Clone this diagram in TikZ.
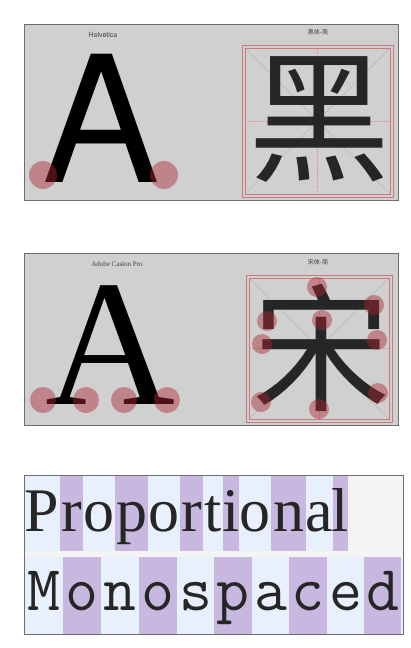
\documentclass[tikz,border=0pt]{standalone}
\usepackage{fontspec}
\newfontfamily\heros{TeX Gyre Heros}
\newfontfamily\cjk{Noto Sans CJK SC}
\newfontfamily\timesish{Liberation Serif}
\definecolor{panelgray}{RGB}{208,208,208}
\definecolor{frame}{RGB}{110,110,110}
\definecolor{mark}{RGB}{170,40,50}
\definecolor{boxred}{RGB}{205,120,125}
\definecolor{cellblue}{RGB}{232,240,254}
\definecolor{cellgray}{RGB}{244,244,244}
\definecolor{stripe}{RGB}{200,184,224}

\begin{document}
\begin{tikzpicture}[x=1pt, y=-1pt,
  panel/.style={draw=frame, line width=0.9pt, fill=panelgray},
  tag/.style={font=\fontsize{7}{7}\selectfont, text=black!75, inner sep=0},
  glyph/.style={inner sep=0, anchor=base},
  dot/.style={fill=mark, fill opacity=0.45, draw=none},
  gridbox/.style={draw=boxred, line width=0.5pt},
  guide/.style={draw=gray!65, line width=0.3pt},
  cross/.style={draw=boxred!70, line width=0.3pt, densely dotted}
]
  \useasboundingbox[fill=white] (0,0) rectangle (411,648);

  % panel 1: sans
  \draw[panel] (24,24) rectangle (398,200);
  \node[tag, font=\heros\fontsize{7}{7}\selectfont] (helv) at (103,35) {Helvetica};
  \node[tag, font=\cjk\fontsize{6}{6}\selectfont] (hei) at (318,32) {黑体-简};
  \draw[guide] (245,48) -- (390,194) (390,48) -- (245,194);
  \draw[cross] (317.5,48) -- (317.5,194) (245,121) -- (390,121);
  \draw[gridbox] (242,45) rectangle (393,197);
  \draw[gridbox] (245,48) rectangle (390,194);
  \node[glyph, text height=126pt, text depth=0pt, font=\heros\fontsize{176}{176}\selectfont] (bigA) at (101.5,182) {A};
  \node[inner sep=0, text=black!85, font=\cjk\fontsize{142}{142}\selectfont] (heiChar) at (319,120) {黑};
  \fill[dot] (43,175) circle (14pt);
  \fill[dot] (164,175) circle (14pt);

  % panel 2: serif
  \draw[panel] (24,253) rectangle (398,425);
  \node[tag, font=\timesish\fontsize{7}{7}\selectfont] (caslon) at (117,264) {Adobe Caslon Pro};
  \node[tag, font=\cjk\fontsize{6}{6}\selectfont] (song) at (318,262) {宋体-简};
  \draw[guide] (249,278) -- (389,419) (389,278) -- (249,419);
  \draw[cross] (319,278) -- (319,419) (249,348.5) -- (389,348.5);
  \draw[gridbox] (246,275) rectangle (392,422);
  \draw[gridbox] (249,278) rectangle (389,419);
  \node[glyph, text height=120pt, text depth=0pt, font=\timesish\fontsize{180}{180}\selectfont] (serifA) at (110,404) {A};
  \node[inner sep=0, text=black!85, font=\cjk\fontsize{138}{138}\selectfont] (songChar) at (321,348) {宋};
  \foreach \px in {43,86,124,167}
    \fill[dot] (\px,400) circle (13pt);
  \foreach \px/\py in {317/287, 374/305, 267/321, 322/320, 262/344,
                       377/340, 261/402, 378/393, 319/409}
    \fill[dot] (\px,\py) circle (10pt);

  % panel 3: widths
  \fill[cellgray] (24,475) rectangle (403,634);
  \fill[cellblue] (24,475) rectangle (348,551);
  \fill[cellblue] (24,557) rectangle (403,634);
  \foreach \ch/\xa/\xb [count=\i] in {P/24/60, r/60/83, o/83/115, p/115/148,
      o/148/180, r/180/203, t/203/223, i/223/239, o/239/271, n/271/306,
      a/306/333, l/333/348}
    {\ifodd\i\else \fill[stripe] (\xa,475) rectangle (\xb,551);\fi}
  \foreach \ch/\xa/\xb [count=\i] in {M/24/63, o/63/101, n/101/139, o/139/177,
      s/177/214, p/214/252, a/252/289, c/289/327, e/327/364, d/364/401}
    {\ifodd\i\else \fill[stripe] (\xa,557) rectangle (\xb,634);\fi}
  \foreach \ch/\xa/\xb [count=\i] in {P/24/60, r/60/83, o/83/115, p/115/148,
      o/148/180, r/180/203, t/203/223, i/223/239, o/239/271, n/271/306,
      a/306/333, l/333/348}
    \node[glyph, text=black!85, font=\timesish\fontsize{62}{62}\selectfont] (prop\i) at ({(\xa+\xb)/2},531) {\ch};
  \foreach \ch/\xa/\xb [count=\i] in {M/24/63, o/63/101, n/101/139, o/139/177,
      s/177/214, p/214/252, a/252/289, c/289/327, e/327/364, d/364/401}
    \node[glyph, text=black!85, font=\ttfamily\fontsize{64}{64}\selectfont] (mono\i) at ({(\xa+\xb)/2},610) {\ch};
  \draw[frame, line width=0.9pt] (24,475) rectangle (403,634);
\end{tikzpicture}
\end{document}
